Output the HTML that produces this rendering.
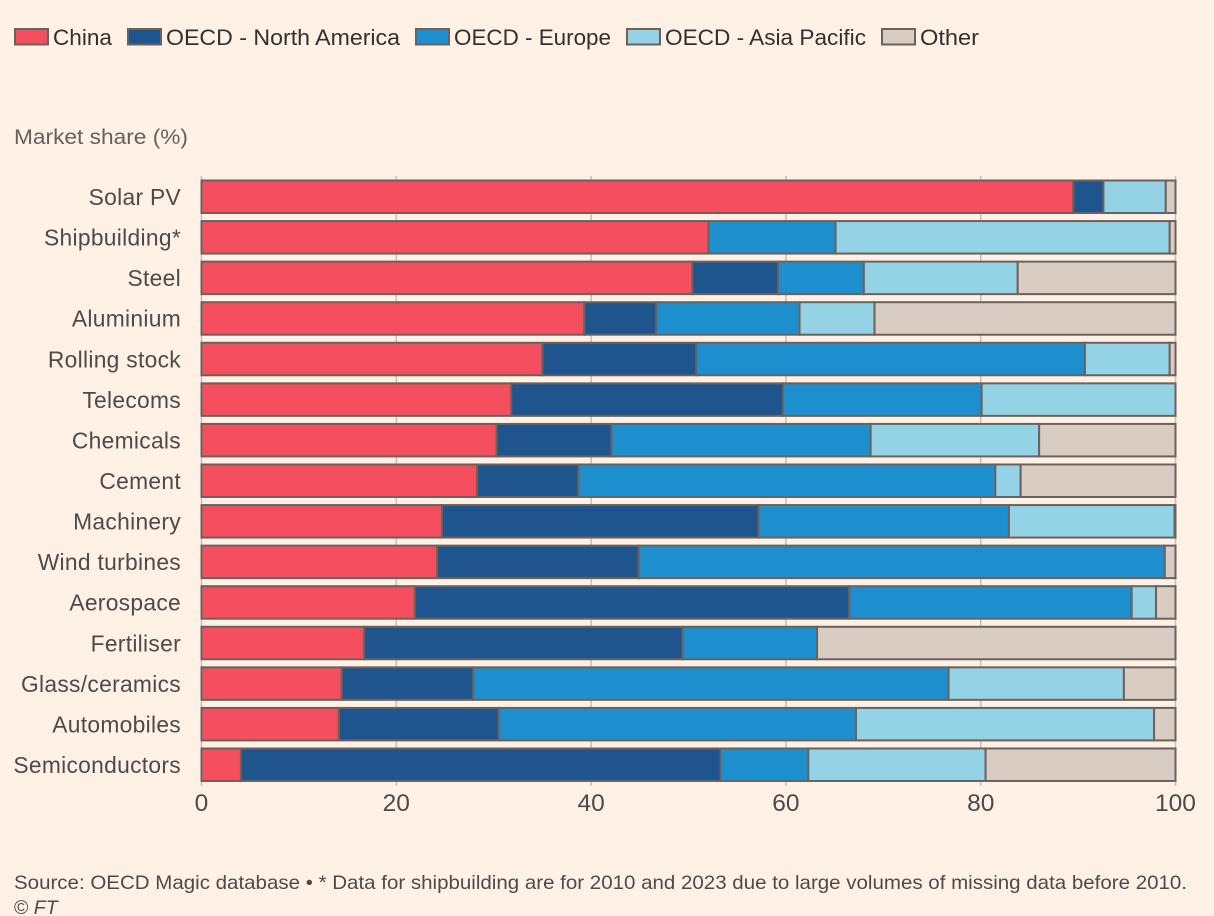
<!DOCTYPE html>
<html>
<head>
<meta charset="utf-8">
<title>Market share by industry</title>
<style>
html,body{margin:0;padding:0;background:#fff1e5;}
body{width:1214px;height:916px;overflow:hidden;}
svg{display:block;}
text{font-family:"Liberation Sans",sans-serif;}
</style>
</head>
<body>
<svg id="chart" width="1214" height="916" viewBox="0 0 1214 916" xmlns="http://www.w3.org/2000/svg">
  <rect x="0" y="0" width="1214" height="916" fill="#fff1e5"/>
  <g id="legend"></g>
  <text x="14" y="144" font-size="21" fill="#66605c" textLength="174" lengthAdjust="spacingAndGlyphs">Market share (%)</text>
  <g id="grid"></g>
  <g id="bars"></g>
  <g id="cats"></g>
  <g id="ticks"></g>
  <text x="14" y="889" font-size="19.5" fill="#4f4a47" textLength="1173" lengthAdjust="spacingAndGlyphs">Source: OECD Magic database • * Data for shipbuilding are for 2010 and 2023 due to large volumes of missing data before 2010.</text>
  <text x="14" y="914" font-size="19.5" fill="#4f4a47">© <tspan font-style="italic">FT</tspan></text>
</svg>
<script>
var categories = ["Solar PV","Shipbuilding*","Steel","Aluminium","Rolling stock","Telecoms","Chemicals","Cement","Machinery","Wind turbines","Aerospace","Fertiliser","Glass/ceramics","Automobiles","Semiconductors"];
var seriesNames = ["China","OECD - North America","OECD - Europe","OECD - Asia Pacific","Other"];
var china = [89.5,52.05,50.4,39.3,35,31.8,30.3,28.3,24.7,24.2,21.9,16.7,14.4,14.1,4.05];
var northAmerica = [3.1,0,8.8,7.4,15.8,27.9,11.8,10.4,32.5,20.7,44.6,32.7,13.5,16.4,49.25];
var europe = [0,13.05,8.8,14.7,39.9,20.4,26.6,42.8,25.7,54,29,13.8,48.8,36.7,9];
var asiaPacific = [6.4,34.3,15.8,7.7,8.7,19.9,17.3,2.6,17,0,2.5,0,18,30.6,18.2];
var other = [1,0.6,16.2,30.9,0.6,0,14,15.9,0.1,1.1,2,36.8,5.3,2.2,19.5];
var xTicks = [0,20,40,60,80,100];

var seriesValues = [china, northAmerica, europe, asiaPacific, other];
var seriesColors = ["#f54e5e","#1f558f","#1e8fce","#94d3e6","#d9ccc3"];
var seriesKeys = ["china","north-america","europe","asia-pacific","other"];
var NS = "http://www.w3.org/2000/svg";

function xScale(v){ return 201.5 + v * 9.74; }
function yScale(i){ return 180.5 + i * 40.57; }
var barHeight = 32.5;

function make(tag, attrs, parent, text){
  var el = document.createElementNS(NS, tag);
  for (var k in attrs) el.setAttribute(k, attrs[k]);
  if (text !== undefined) el.textContent = text;
  parent.appendChild(el);
  return el;
}

var gridG = document.getElementById("grid");
var barsG = document.getElementById("bars");
var catsG = document.getElementById("cats");
var ticksG = document.getElementById("ticks");
var legendG = document.getElementById("legend");

xTicks.forEach(function(t){
  var line = make("line", {x1:xScale(t), x2:xScale(t), y1:176, y2:786, stroke:"#ccc1b7", "stroke-width":1.6}, gridG);
  
  
  var label = make("text", {x:xScale(t), y:811, "font-size":24.5, fill:"#4f4a47", "text-anchor":"middle"}, ticksG, String(t));
  
  
});

categories.forEach(function(cat, i){
  var y = yScale(i);
  var label = make("text", {x:181, y:y + 24.5, "font-size":22.8, "letter-spacing":0.3, fill:"#4f4a47", "text-anchor":"end"}, catsG, cat);
  
  
  var cum = 0;
  seriesValues.forEach(function(vals, s){
    var v = vals[i];
    if (v > 0) {
      var x0 = xScale(cum);
      var x1 = xScale(cum + v);
      var r = make("rect", {x:x0, y:y, width:x1 - x0, height:barHeight, fill:seriesColors[s], stroke:"#6b625c", "stroke-width":2}, barsG);
      
      
    }
    cum += v;
  });
});

var legendX = [15, 128, 416, 627, 882];
var legendTextWidth = [59, 234, 157, 201, 59];
seriesNames.forEach(function(name, s){
  var sw = make("rect", {x:legendX[s], y:29, width:33, height:15.5, fill:seriesColors[s], stroke:"#6b625c", "stroke-width":2}, legendG);
  
  
  var tx = make("text", {x:legendX[s] + 38, y:45, "font-size":22.6, fill:"#33302e", textLength:legendTextWidth[s], lengthAdjust:"spacingAndGlyphs"}, legendG, name);
  
  
});
</script>
</body>
</html>
